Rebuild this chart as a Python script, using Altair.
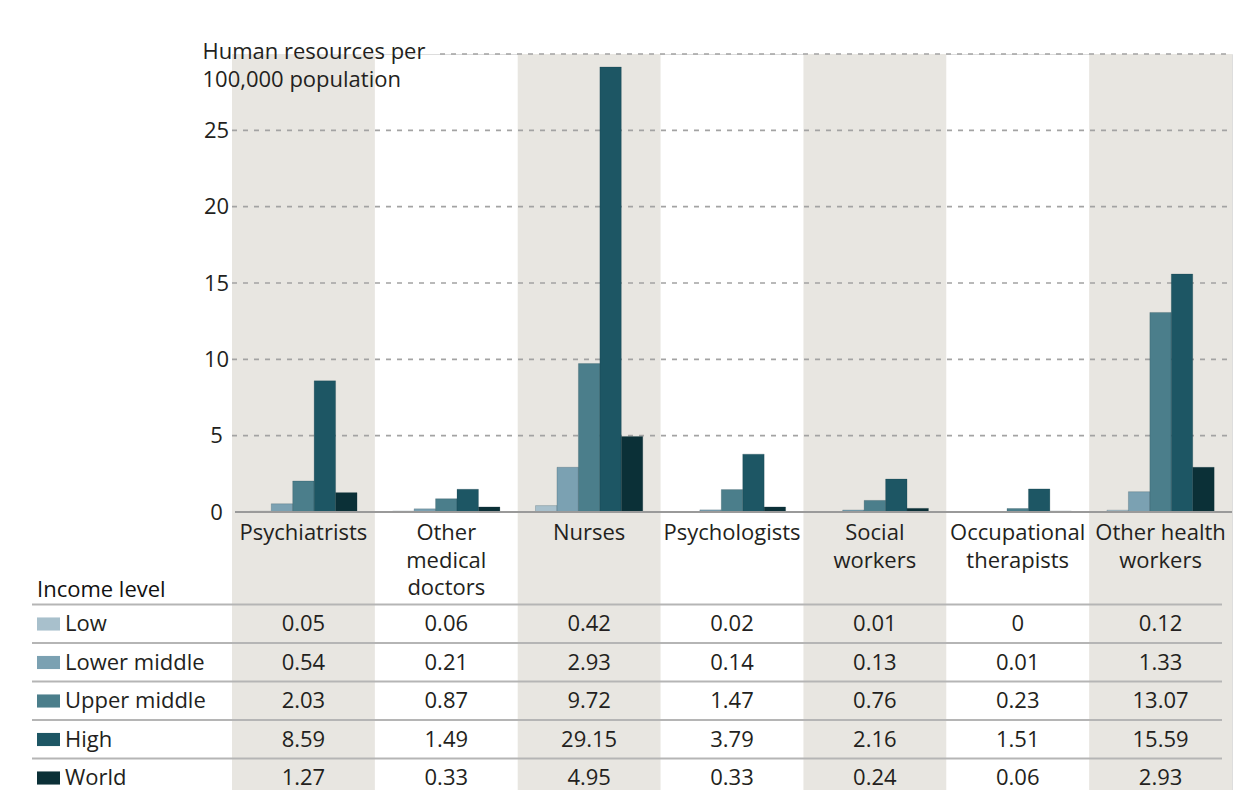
import altair as alt
import pandas as pd

# ---------------- data ----------------
categories = ["Psychiatrists", "Other medical doctors", "Nurses", "Psychologists",
              "Social workers", "Occupational therapists", "Other health workers"]
category_labels = ["Psychiatrists", "Other\nmedical\ndoctors", "Nurses", "Psychologists",
                   "Social\nworkers", "Occupational\ntherapists", "Other health\nworkers"]
levels = ["Low", "Lower middle", "Upper middle", "High", "World"]
low = [0.05, 0.06, 0.42, 0.02, 0.01, 0, 0.12]
lower_middle = [0.54, 0.21, 2.93, 0.14, 0.13, 0.01, 1.33]
upper_middle = [2.03, 0.87, 9.72, 1.47, 0.76, 0.23, 13.07]
high = [8.59, 1.49, 29.15, 3.79, 2.16, 1.51, 15.59]
world = [1.27, 0.33, 4.95, 0.33, 0.24, 0.06, 2.93]
level_colors = ["#a8c0cc", "#7ba1b2", "#4b7e8b", "#1d5664", "#0b3037"]
y_ticks = [0, 5, 10, 15, 20, 25]
y_top = 30
shaded = categories[::2]

series = [low, lower_middle, upper_middle, high, world]
rows = []
for lev, vals in zip(levels, series):
    for c, v in zip(categories, vals):
        rows.append({"cat": c, "level": lev, "value": v})
df = pd.DataFrame(rows)
df_cats = pd.DataFrame({"cat": categories, "label": category_labels})
df_bands = pd.DataFrame({"cat": shaded})
df_grid = pd.DataFrame({"tick": y_ticks[1:]})
df_levels = pd.DataFrame({"level": levels})

# ---------------- layout ----------------
W, H = 1000, 736
FONT = "Open Sans"
TXT = "#231f20"
FS = 22

xs = alt.Scale(domain=categories, paddingInner=0, paddingOuter=0)
xo = alt.Scale(domain=levels, paddingInner=0, paddingOuter=0.83)
yq = alt.Scale(domain=[0, y_top], range=[458, 0], nice=False, zero=True)
yl = alt.Scale(type="point", domain=levels, range=[570, 724], padding=0)
cs = alt.Scale(domain=levels, range=level_colors)

y_axis = alt.Axis(values=y_ticks, grid=False, ticks=False, domain=False, zindex=2,
                  labelAlign="center", labelPadding=16, labelFontSize=FS,
                  labelColor=TXT, labelFont=FONT,
                  title=["Human resources per", "100,000 population"],
                  titleAngle=0, titleAlign="left", titleBaseline="alphabetic",
                  titleX=-30, titleY=4, titleLineHeight=28, titleFontSize=FS,
                  titleFontWeight="normal", titleColor=TXT, titleFont=FONT)

X = alt.X("cat:N", scale=xs, axis=None)

bands = alt.Chart(df_bands).mark_rect(color="#e8e6e1").encode(
    x=X, y=alt.YDatum(y_top, scale=yq, axis=y_axis), y2=alt.value(H))

grid = alt.Chart(df_grid).mark_rule(color="#a3a3a3", strokeWidth=1.6, strokeDash=[5, 6]).encode(
    y=alt.Y("tick:Q", scale=yq, axis=y_axis), x=alt.value(0), x2=alt.value(W))

top_grid = alt.Chart(df_bands.head(1)).mark_rule(color="#a3a3a3", strokeWidth=1.6, strokeDash=[5, 6]).encode(
    y=alt.YDatum(y_top, scale=yq, axis=y_axis), x=alt.value(208), x2=alt.value(W))

bars = alt.Chart(df).mark_bar(stroke="#10303a", strokeWidth=0.4, strokeOpacity=0.5).encode(
    x=X,
    xOffset=alt.XOffset("level:N", scale=xo, sort=levels),
    y=alt.Y("value:Q", scale=yq, axis=y_axis),
    color=alt.Color("level:N", scale=cs, legend=None),
)

baseline = alt.Chart(df_bands.head(1)).mark_rule(color="#9a9a9a", strokeWidth=2).encode(
    y=alt.YDatum(0, scale=yq, axis=y_axis), x=alt.value(3), x2=alt.value(W))

cat_text = alt.Chart(df_cats).mark_text(fontSize=FS, font=FONT, color=TXT, baseline="alphabetic",
                                        align="center", lineBreak="\n", lineHeight=27.5).encode(
    x=X, y=alt.value(486), text="label:N")

chart_part = alt.layer(bands, grid, top_grid, bars, baseline, cat_text)

# ---------------- table ----------------
YL = alt.Y("level:N", scale=yl, axis=None, sort=levels)

row_lines = alt.Chart(df_levels).mark_rule(color="#b5b5b5", strokeWidth=1.8, yOffset=-19.5).encode(
    y=YL, x=alt.value(-200), x2=alt.value(990))

values_text = alt.Chart(df).mark_text(fontSize=FS, font=FONT, color=TXT, baseline="middle",
                                      align="center").encode(
    x=X, y=YL, text=alt.Text("value:Q", format="~g"))

swatches = alt.Chart(df_levels).mark_point(
    shape="M-1,-0.57L1,-0.57L1,0.57L-1,0.57Z", filled=True, size=529, opacity=1, strokeWidth=0).encode(
    x=alt.value(-183.5), y=YL, color=alt.Color("level:N", scale=cs, legend=None))

row_labels = alt.Chart(df_levels).mark_text(fontSize=FS, font=FONT, color=TXT, baseline="middle",
                                            align="left").encode(
    x=alt.value(-167), y=YL, text="level:N")

header = alt.Chart(df_bands.head(1)).mark_text(fontSize=FS, font=FONT, color="#111111",
                                               baseline="alphabetic", align="left").encode(
    x=alt.value(-195), y=alt.value(543), text=alt.value("Income level"))

table_part = alt.layer(row_lines, values_text, swatches, row_labels, header)

chart = alt.layer(chart_part, table_part).resolve_scale(y="independent").properties(
    width=W, height=H,
    padding={"left": 224, "top": 46, "right": 4, "bottom": 0},
    autosize=alt.AutoSizeParams(type="none"),
).configure_view(stroke=None).configure(font=FONT)

chart.save("out.html", embed_options={"renderer": "svg", "actions": False})
